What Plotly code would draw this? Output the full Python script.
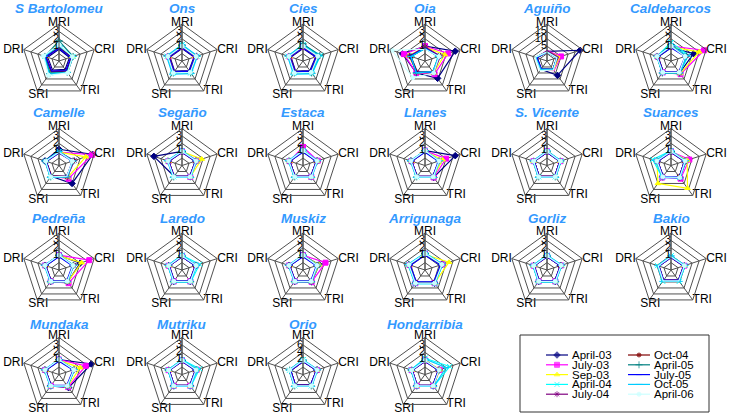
import plotly.graph_objects as go

# ---------------- data ----------------
SERIES = ["April-03", "July-03", "Sep-03", "April-04", "July-04",
          "Oct-04", "April-05", "July-05", "Oct-05", "April-06"]
AXES = ["MRI", "CRI", "TRI", "SRI", "DRI"]

SITES = ["S Bartolomeu", "Ons", "Cies", "Oia", "Aguiño", "Caldebarcos",
         "Camelle", "Segaño", "Estaca", "Llanes", "S. Vicente", "Suances",
         "Pedreña", "Laredo", "Muskiz", "Arrigunaga", "Gorliz", "Bakio",
         "Mundaka", "Mutriku", "Orio", "Hondarribia"]

# radial tick step per site (labels step, step*2, step*3)
STEP = [1, 1, 1, 1, 5, 1,
        1, 1, 1, 1, 1, 1,
        1, 1, 1, 1, 1, 1,
        1, 1, 2, 1]
TICK_MULT = [1, 2, 3]

# values per site: one row per series (SERIES order), columns MRI, CRI, TRI, SRI, DRI
s_bartolomeu = [[0.6, 0.5, 0.4, 0.5, 0.6], [0.8, 0.8, 0.6, 0.7, 0.8], [0.9, 0.9, 0.7, 0.8, 0.9],
                [1.1, 1.0, 0.8, 1.0, 1.0], [0.8, 0.7, 0.6, 0.7, 0.8], [0.9, 0.8, 0.7, 0.8, 0.9],
                [1.7, 1.0, 0.9, 1.1, 1.0], [0.7, 0.7, 0.6, 0.7, 0.9], [1.0, 1.0, 0.9, 1.2, 1.1],
                [1.2, 0.9, 1.0, 1.4, 1.2]]
ons = [[0.7, 0.7, 0.6, 0.7, 0.7], [0.9, 0.9, 0.8, 0.8, 0.9], [0.9, 0.9, 0.8, 0.9, 0.9],
       [1.2, 1.1, 1.0, 1.1, 1.1], [0.8, 0.8, 0.7, 0.8, 0.8], [0.9, 0.9, 0.8, 0.8, 0.9],
       [1.1, 1.1, 1.0, 1.0, 1.0], [0.8, 0.8, 0.7, 0.8, 0.9], [1.2, 1.2, 1.1, 1.2, 1.2],
       [1.0, 1.0, 0.9, 1.0, 1.0]]
cies = [[0.7, 0.8, 0.6, 0.7, 0.7], [0.9, 1.0, 0.8, 0.8, 0.9], [0.9, 1.0, 0.8, 0.9, 0.9],
        [1.2, 1.5, 1.1, 1.1, 1.1], [0.8, 0.9, 0.7, 0.8, 0.8], [0.9, 1.0, 0.8, 0.8, 0.9],
        [1.3, 1.4, 1.0, 1.0, 1.0], [0.8, 0.9, 0.7, 0.8, 0.9], [1.1, 1.3, 1.1, 1.2, 1.2],
        [1.0, 1.1, 0.9, 1.0, 1.0]]
oia = [[1.0, 3.3, 1.9, 1.0, 2.2], [1.0, 2.3, 1.2, 1.0, 2.0], [0.9, 1.8, 1.0, 0.9, 1.3],
       [0.7, 1.0, 0.8, 0.8, 1.0], [0.9, 1.2, 1.0, 0.9, 1.2], [0.8, 1.0, 0.9, 0.8, 1.0],
       [0.7, 0.9, 0.8, 1.0, 1.0], [0.8, 1.0, 0.9, 0.9, 1.1], [0.7, 0.9, 0.8, 1.0, 1.0],
       [0.6, 1.0, 1.0, 1.8, 3.7]]
aguino = [[1.5, 18.5, 7.0, 2.0, 3.0], [2.0, 5.0, 3.0, 2.0, 2.0], [1.5, 4.0, 2.5, 2.0, 2.0],
          [1.0, 2.0, 2.0, 2.0, 3.0], [2.0, 3.0, 2.0, 2.0, 2.0], [1.0, 2.0, 2.0, 1.5, 2.0],
          [1.0, 2.0, 2.0, 2.0, 3.0], [1.0, 2.0, 2.0, 1.5, 2.0], [1.0, 2.0, 2.0, 2.0, 3.0],
          [1.0, 2.0, 2.5, 3.0, 3.5]]
caldebarcos = [[0.8, 2.2, 1.0, 0.8, 0.8], [1.0, 3.7, 1.2, 0.9, 0.9], [0.9, 3.0, 1.1, 0.9, 0.9],
               [1.5, 1.5, 1.0, 1.0, 1.0], [0.9, 1.2, 0.9, 0.8, 0.9], [0.9, 1.1, 0.9, 0.8, 0.9],
               [1.2, 1.2, 1.0, 1.0, 1.0], [0.8, 1.0, 0.8, 0.8, 0.9], [1.1, 1.3, 1.0, 1.0, 1.0],
               [1.0, 1.0, 0.9, 0.9, 1.0]]
camelle = [[1.2, 3.8, 2.0, 0.8, 1.0], [0.8, 3.7, 1.2, 0.8, 0.8], [0.8, 2.8, 1.0, 0.8, 0.8],
           [0.9, 1.0, 0.9, 0.9, 0.9], [0.8, 1.2, 0.9, 0.8, 0.8], [0.7, 1.0, 0.8, 0.7, 0.8],
           [0.8, 1.0, 0.8, 0.9, 0.9], [0.7, 0.9, 0.8, 0.8, 0.8], [0.9, 1.0, 0.9, 1.0, 1.0],
           [0.8, 0.9, 0.8, 0.9, 0.9]]
segano = [[0.9, 1.0, 0.8, 0.8, 3.0], [0.9, 1.2, 0.9, 0.8, 0.9], [0.9, 1.8, 0.9, 0.8, 0.9],
          [1.0, 1.0, 0.9, 0.9, 1.0], [0.8, 0.9, 0.8, 0.8, 0.9], [0.8, 0.9, 0.8, 0.8, 0.9],
          [0.9, 1.0, 0.9, 0.9, 1.0], [0.8, 0.9, 0.8, 0.8, 0.9], [1.0, 1.1, 1.0, 1.0, 1.1],
          [0.9, 1.0, 0.9, 0.9, 1.0]]
estaca = [[1.0, 1.0, 0.8, 0.8, 0.9], [1.5, 1.1, 0.9, 0.8, 0.9], [1.0, 1.0, 0.9, 0.8, 0.9],
          [1.0, 1.0, 0.9, 0.9, 1.0], [0.9, 0.9, 0.8, 0.8, 0.9], [0.9, 0.9, 0.8, 0.8, 0.9],
          [1.0, 1.0, 0.9, 0.9, 1.0], [0.8, 0.9, 0.8, 0.8, 0.9], [1.1, 1.1, 1.0, 1.0, 1.1],
          [1.0, 1.0, 0.9, 0.9, 1.0]]
llanes = [[1.0, 3.3, 1.0, 0.8, 1.0], [1.0, 2.0, 1.0, 0.8, 0.9], [0.9, 1.5, 0.9, 0.8, 0.9],
          [1.0, 1.0, 0.9, 0.9, 1.0], [0.9, 1.0, 0.8, 0.8, 0.9], [0.9, 1.0, 0.8, 0.8, 0.9],
          [1.0, 1.0, 0.9, 0.9, 1.0], [0.8, 0.9, 0.8, 0.8, 0.9], [1.0, 1.1, 1.0, 1.0, 1.1],
          [1.0, 1.0, 0.9, 0.9, 1.0]]
s_vicente = [[0.8, 0.8, 0.8, 0.8, 0.8], [0.9, 0.9, 0.8, 0.8, 0.9], [0.9, 0.9, 0.8, 0.8, 0.9],
             [0.9, 1.0, 0.9, 0.9, 0.9], [0.8, 0.8, 0.8, 0.8, 0.8], [0.8, 0.8, 0.8, 0.8, 0.8],
             [0.9, 0.9, 0.9, 0.9, 0.9], [0.8, 0.8, 0.8, 0.8, 0.8], [1.0, 1.0, 1.0, 1.0, 1.0],
             [0.9, 0.9, 0.9, 0.9, 0.9]]
suances = [[0.9, 1.2, 1.0, 0.9, 1.0], [0.9, 1.6, 1.2, 1.0, 1.0], [0.9, 1.3, 2.8, 2.0, 1.0],
           [1.0, 1.0, 1.0, 1.0, 1.6], [0.8, 0.9, 0.9, 0.8, 0.9], [0.8, 0.9, 0.9, 0.8, 0.9],
           [0.9, 1.0, 1.0, 0.9, 1.0], [0.8, 0.9, 0.9, 0.8, 0.9], [1.0, 1.1, 1.1, 1.0, 1.2],
           [0.9, 1.0, 1.0, 0.9, 1.0]]
pedrena = [[1.0, 2.0, 1.0, 0.9, 1.0], [1.0, 3.3, 1.2, 0.9, 1.0], [0.9, 2.2, 1.0, 0.9, 0.9],
           [1.0, 1.0, 0.9, 0.9, 1.0], [0.9, 1.1, 0.9, 0.8, 0.9], [0.9, 1.0, 0.9, 0.8, 0.9],
           [1.0, 1.0, 0.9, 0.9, 1.0], [0.8, 0.9, 0.8, 0.8, 0.9], [1.0, 1.1, 1.0, 1.0, 1.1],
           [1.0, 1.0, 0.9, 0.9, 1.0]]
laredo = [[0.9, 1.0, 0.9, 0.9, 0.9], [0.9, 1.0, 0.9, 0.9, 0.9], [0.9, 1.0, 0.9, 0.9, 0.9],
          [1.0, 1.5, 1.0, 1.0, 1.0], [0.8, 0.9, 0.8, 0.8, 0.8], [0.8, 0.9, 0.8, 0.8, 0.8],
          [0.9, 1.0, 0.9, 0.9, 0.9], [0.8, 0.9, 0.8, 0.8, 0.8], [1.0, 1.1, 1.0, 1.0, 1.0],
          [0.9, 1.0, 0.9, 0.9, 0.9]]
muskiz = [[1.0, 1.3, 1.0, 0.9, 1.0], [1.0, 2.2, 1.0, 0.9, 1.0], [0.9, 1.3, 0.9, 0.9, 0.9],
          [1.0, 1.0, 0.9, 0.9, 1.0], [0.9, 1.0, 0.9, 0.8, 0.9], [0.9, 1.0, 0.9, 0.8, 0.9],
          [1.0, 1.0, 0.9, 0.9, 1.0], [0.8, 0.9, 0.8, 0.8, 0.9], [1.0, 1.1, 1.0, 1.0, 1.1],
          [1.0, 1.0, 0.9, 0.9, 1.0]]
arrigunaga = [[1.2, 1.4, 1.2, 1.2, 1.3], [1.2, 1.5, 1.2, 1.2, 1.2], [1.1, 2.4, 1.2, 1.1, 1.2],
              [1.3, 1.5, 1.3, 1.3, 1.4], [1.1, 1.3, 1.1, 1.1, 1.2], [1.1, 1.3, 1.1, 1.1, 1.2],
              [1.2, 1.4, 1.2, 1.2, 1.3], [1.0, 1.2, 1.0, 1.0, 1.1], [1.3, 1.5, 1.3, 1.3, 1.4],
              [1.2, 1.4, 1.2, 1.2, 1.3]]
gorliz = [[0.9, 0.9, 0.9, 0.9, 0.9], [0.9, 1.0, 0.9, 0.9, 0.9], [0.9, 1.0, 0.9, 0.9, 0.9],
          [1.0, 1.1, 1.0, 1.0, 1.0], [0.8, 0.9, 0.8, 0.8, 0.8], [0.8, 0.9, 0.8, 0.8, 0.8],
          [0.9, 1.0, 0.9, 0.9, 0.9], [0.8, 0.9, 0.8, 0.8, 0.8], [1.0, 1.1, 1.0, 1.0, 1.0],
          [0.9, 1.0, 0.9, 0.9, 0.9]]
bakio = [[0.8, 0.8, 0.8, 0.8, 0.8], [0.8, 0.9, 0.8, 0.8, 0.8], [0.8, 0.9, 0.8, 0.8, 0.8],
         [0.9, 1.0, 0.9, 0.9, 0.9], [0.7, 0.8, 0.7, 0.7, 0.7], [0.7, 0.8, 0.7, 0.7, 0.7],
         [0.8, 0.9, 0.8, 0.8, 0.8], [0.7, 0.8, 0.7, 0.7, 0.7], [0.9, 1.0, 0.9, 0.9, 0.9],
         [0.8, 0.9, 0.8, 0.8, 0.8]]
mundaka = [[1.0, 3.6, 1.2, 0.9, 1.0], [1.0, 2.8, 1.1, 0.9, 1.0], [0.9, 2.0, 1.0, 0.9, 0.9],
           [1.0, 1.2, 1.0, 1.0, 1.0], [0.9, 1.2, 0.9, 0.8, 0.9], [0.9, 1.1, 0.9, 0.8, 0.9],
           [1.0, 1.1, 1.0, 0.9, 1.0], [0.8, 1.0, 0.8, 0.8, 0.9], [1.0, 1.2, 1.0, 1.0, 1.1],
           [1.0, 1.1, 0.9, 0.9, 1.0]]
mutriku = [[0.9, 1.0, 0.9, 0.9, 0.9], [0.9, 1.1, 0.9, 0.9, 0.9], [0.9, 1.1, 0.9, 0.9, 0.9],
           [1.0, 1.5, 1.0, 1.0, 1.0], [0.8, 0.9, 0.8, 0.8, 0.8], [0.8, 0.9, 0.8, 0.8, 0.8],
           [0.9, 1.0, 0.9, 0.9, 0.9], [0.8, 0.9, 0.8, 0.8, 0.8], [1.0, 1.2, 1.0, 1.0, 1.0],
           [0.9, 1.0, 0.9, 0.9, 0.9]]
orio = [[1.5, 2.0, 1.5, 1.5, 1.5], [1.5, 2.0, 1.5, 1.5, 1.5], [1.5, 2.0, 1.5, 1.5, 1.5],
        [2.0, 2.0, 1.8, 1.8, 1.8], [1.5, 1.8, 1.5, 1.5, 1.5], [1.5, 1.8, 1.5, 1.5, 1.5],
        [1.8, 2.0, 1.8, 1.8, 1.8], [1.5, 1.8, 1.5, 1.5, 1.5], [2.0, 2.2, 2.0, 2.0, 2.0],
        [1.8, 2.0, 1.8, 1.8, 1.8]]
hondarribia = [[0.9, 1.0, 0.9, 0.9, 0.9], [0.9, 1.1, 0.9, 0.9, 0.9], [0.9, 1.1, 0.9, 0.9, 0.9],
               [1.2, 2.5, 1.0, 1.0, 1.0], [0.8, 0.9, 0.8, 0.8, 0.8], [0.8, 0.9, 0.8, 0.8, 0.8],
               [0.9, 1.0, 0.9, 0.9, 0.9], [0.8, 0.9, 0.8, 0.8, 0.8], [1.1, 2.0, 1.0, 1.0, 1.0],
               [0.9, 1.0, 0.9, 0.9, 0.9]]

SITE_DATA = [s_bartolomeu, ons, cies, oia, aguino, caldebarcos,
             camelle, segano, estaca, llanes, s_vicente, suances,
             pedrena, laredo, muskiz, arrigunaga, gorliz, bakio,
             mundaka, mutriku, orio, hondarribia]

# ---------------- styles ----------------
COLORS = ["#000080", "#FF00FF", "#FFFF00", "#00FFFF", "#800080",
          "#800000", "#008080", "#0000FF", "#00CCFF", "#CCFFFF"]
SYMBOLS = ["diamond", "square", "triangle-up", "x-thin-open", "asterisk-open",
           "circle", "cross-thin-open", "line-ew-open", "line-ew-open", "circle"]
MSIZE = [5, 5, 5, 5, 5, 4, 5, 4, 5, 4]
AX_LABEL_POS = ["top center", "middle right", "middle right", "bottom center", "middle left"]
AX_LABEL_R = [3.35, 4.0, 3.97, 3.75, 4.0]   # in radial-step units (must stay inside range)

W, H = 738, 415
COL_CX = [59, 182, 303, 425, 547, 671]
ROW_CY = [61, 165.5, 270, 374.5]
TITLE_Y = [8, 112, 218, 324]
RAD = 37
FONT = "Liberation Sans, Arial, sans-serif"
GRID = "#505050"

fig = go.Figure()
layout = dict(width=W, height=H, margin=dict(l=0, r=0, t=0, b=0),
              paper_bgcolor="white", plot_bgcolor="white", showlegend=False,
              font=dict(family=FONT, color="black", size=12))
annotations = []

for i, (site, data) in enumerate(zip(SITES, SITE_DATA)):
    row, col = divmod(i, 6)
    cx, cy = COL_CX[col], ROW_CY[row]
    key = "polar" if i == 0 else f"polar{i + 1}"
    step = STEP[i]
    layout[key] = dict(
        domain=dict(x=[(cx - RAD) / W, (cx + RAD) / W],
                    y=[1 - (cy + RAD) / H, 1 - (cy - RAD) / H]),
        gridshape="linear",
        bgcolor="white",
        angularaxis=dict(rotation=90, direction="clockwise",
                         categoryorder="array", categoryarray=AXES,
                         showline=True, linecolor=GRID, linewidth=1,
                         showgrid=True, gridcolor=GRID, gridwidth=1,
                         ticks="", showticklabels=False),
        radialaxis=dict(range=[-step, 4 * step], angle=90,
                        tickvals=[0, step, 2 * step, 3 * step, 4 * step],
                        showticklabels=False,
                        showline=True, linecolor=GRID, linewidth=1,
                        showgrid=True, gridcolor=GRID, gridwidth=1, ticks=""),
    )
    for s, name in enumerate(SERIES):
        vals = data[s]
        fig.add_trace(go.Scatterpolar(
            r=vals + vals[:1], theta=AXES + AXES[:1], subplot=key, name=name,
            mode="lines+markers",
            line=dict(color=COLORS[s], width=1.2),
            marker=dict(color=COLORS[s], symbol=SYMBOLS[s], size=MSIZE[s],
                        line=dict(color=COLORS[s], width=1)),
            showlegend=False))
    # radial tick labels along the MRI spoke
    fig.add_trace(go.Scatterpolar(
        r=[m * step for m in TICK_MULT], theta=[AXES[0]] * len(TICK_MULT), subplot=key,
        mode="text", text=[str(m * step) for m in TICK_MULT], textposition="middle left",
        textfont=dict(family=FONT, size=11, color="black"), showlegend=False, hoverinfo="skip"))
    # category labels at the outer vertices
    fig.add_trace(go.Scatterpolar(
        r=[f * step for f in AX_LABEL_R], theta=AXES, subplot=key,
        mode="text", text=AXES, textposition=AX_LABEL_POS,
        textfont=dict(family=FONT, size=12, color="black"), showlegend=False, hoverinfo="skip",
        cliponaxis=False))
    annotations.append(dict(text=f"<b><i>{site}</i></b>", x=cx / W, y=1 - TITLE_Y[row] / H,
                            xref="paper", yref="paper", showarrow=False,
                            xanchor="center", yanchor="middle",
                            font=dict(family=FONT, size=13.5, color="#3399FF")))

# ---------------- manual legend ----------------
LEG_BOX = (520, 335, 709, 412)
LEG_X = [546, 628]
LEG_Y0, LEG_DY, LEG_LEN = 355, 9.8, 22
layout["xaxis"] = dict(domain=[LEG_BOX[0] / W, LEG_BOX[2] / W], range=[LEG_BOX[0], LEG_BOX[2]],
                       visible=False, fixedrange=True)
layout["yaxis"] = dict(domain=[1 - LEG_BOX[3] / H, 1 - LEG_BOX[1] / H], range=[LEG_BOX[3], LEG_BOX[1]],
                       visible=False, fixedrange=True)
for s, name in enumerate(SERIES):
    c, r = divmod(s, 5)
    x0 = LEG_X[c]
    y0 = LEG_Y0 + r * LEG_DY
    fig.add_trace(go.Scatter(
        x=[x0, x0 + LEG_LEN / 2, x0 + LEG_LEN], y=[y0, y0, y0], mode="lines+markers",
        line=dict(color=COLORS[s], width=1.2),
        marker=dict(color=COLORS[s], symbol=SYMBOLS[s], size=[0, MSIZE[s], 0],
                    line=dict(color=COLORS[s], width=1)),
        xaxis="x", yaxis="y", showlegend=False, hoverinfo="skip"))
    annotations.append(dict(text=name, x=x0 + LEG_LEN + 2, y=y0, xref="x", yref="y",
                            showarrow=False, xanchor="left", yanchor="middle",
                            font=dict(family=FONT, size=11.5, color="black")))

layout["shapes"] = [dict(type="rect", xref="paper", yref="paper",
                         x0=LEG_BOX[0] / W, x1=LEG_BOX[2] / W,
                         y0=1 - LEG_BOX[3] / H, y1=1 - LEG_BOX[1] / H,
                         line=dict(color="#333333", width=1), fillcolor="rgba(0,0,0,0)")]
layout["annotations"] = annotations
fig.update_layout(**layout)
fig.write_html("out.html", config={"displayModeBar": False},
               post_script="document.body.style.margin='0';document.body.style.overflow='hidden';")
